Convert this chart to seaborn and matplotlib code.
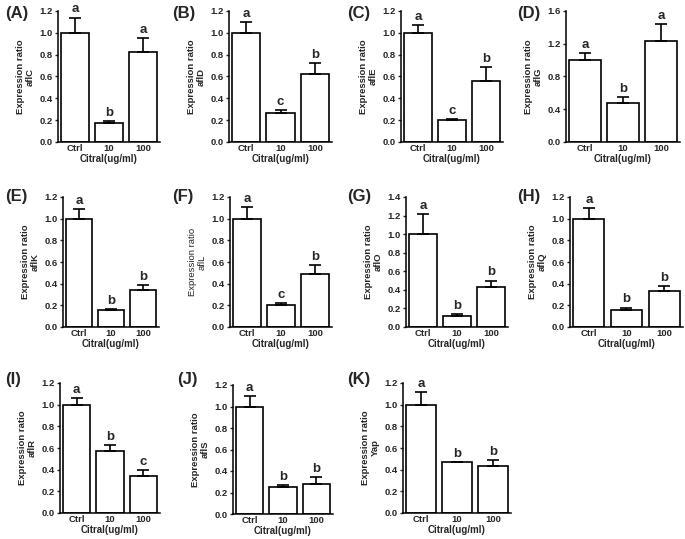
import numpy as np
import pandas as pd
import seaborn as sns
import matplotlib.pyplot as plt

# Data
doses = ['Ctrl', '10', '100']
panel_tags = ['(A)', '(B)', '(C)', '(D)', '(E)', '(F)', '(G)', '(H)', '(I)', '(J)', '(K)']
genes = ['aflC', 'aflD', 'aflE', 'aflG', 'aflK', 'aflL', 'aflO', 'aflQ', 'aflR', 'aflS', 'Yap']

mean_aflC = [1.00, 0.17, 0.82]
mean_aflD = [1.00, 0.27, 0.62]
mean_aflE = [1.00, 0.20, 0.56]
mean_aflG = [1.00, 0.48, 1.23]
mean_aflK = [1.00, 0.16, 0.34]
mean_aflL = [1.00, 0.20, 0.49]
mean_aflO = [1.00, 0.12, 0.43]
mean_aflQ = [1.00, 0.16, 0.33]
mean_aflR = [1.00, 0.57, 0.34]
mean_aflS = [1.00, 0.25, 0.28]
mean_Yap = [1.00, 0.47, 0.43]

err_aflC = [0.14, 0.02, 0.13]
err_aflD = [0.10, 0.02, 0.10]
err_aflE = [0.07, 0.01, 0.13]
err_aflG = [0.09, 0.07, 0.21]
err_aflK = [0.09, 0.01, 0.05]
err_aflL = [0.11, 0.02, 0.08]
err_aflO = [0.22, 0.02, 0.07]
err_aflQ = [0.10, 0.02, 0.05]
err_aflR = [0.06, 0.06, 0.06]
err_aflS = [0.10, 0.02, 0.06]
err_Yap = [0.12, 0.00, 0.06]

letters_aflC = ['a', 'b', 'a']
letters_aflD = ['a', 'c', 'b']
letters_aflE = ['a', 'c', 'b']
letters_aflG = ['a', 'b', 'a']
letters_aflK = ['a', 'b', 'b']
letters_aflL = ['a', 'c', 'b']
letters_aflO = ['a', 'b', 'b']
letters_aflQ = ['a', 'b', 'b']
letters_aflR = ['a', 'b', 'c']
letters_aflS = ['a', 'b', 'b']
letters_Yap = ['a', 'b', 'b']

means = [mean_aflC, mean_aflD, mean_aflE, mean_aflG, mean_aflK, mean_aflL,
         mean_aflO, mean_aflQ, mean_aflR, mean_aflS, mean_Yap]
errs = [err_aflC, err_aflD, err_aflE, err_aflG, err_aflK, err_aflL,
        err_aflO, err_aflQ, err_aflR, err_aflS, err_Yap]
letters = [letters_aflC, letters_aflD, letters_aflE, letters_aflG, letters_aflK, letters_aflL,
           letters_aflO, letters_aflQ, letters_aflR, letters_aflS, letters_Yap]
y_max = [1.2, 1.2, 1.2, 1.6, 1.2, 1.2, 1.4, 1.2, 1.2, 1.2, 1.2]
y_step = [0.2, 0.2, 0.2, 0.4, 0.2, 0.2, 0.2, 0.2, 0.2, 0.2, 0.2]

# axes boxes in pixels: left, right, top, bottom
W, H = 685, 539
boxes = [(58, 160, 11, 142), (229, 332, 11, 142), (401, 503, 11, 142), (566, 680, 11, 142),
         (63, 159, 197, 327), (230, 332, 197, 327), (406, 508, 197, 327), (570, 683, 197, 327),
         (60, 160, 383, 513), (233, 333, 385, 514), (403, 511, 383, 513)]
tag_pos = [(5, 6), (172, 6), (347, 6), (517, 6),
           (5, 189), (172, 189), (347, 189), (517, 189),
           (5, 372), (177, 372), (347, 372)]

sns.set_theme(style='ticks')
plt.rcParams['font.family'] = ['Liberation Sans', 'DejaVu Sans']

fig = plt.figure(figsize=(W / 100, H / 100), dpi=100)

for i, gene in enumerate(genes):
    x0, x1, t, b = boxes[i]
    ax = fig.add_axes([x0 / W, 1 - b / H, (x1 - x0) / W, (b - t) / H])
    df = pd.DataFrame({'dose': doses, 'ratio': means[i]})
    sns.barplot(data=df, x='dose', y='ratio', ax=ax, color='white', saturation=1,
                edgecolor='black', linewidth=1.2, width=0.82, errorbar=None)
    xs = np.arange(len(doses))
    ax.errorbar(xs, means[i], yerr=[np.zeros(len(doses)), errs[i]], fmt='none',
                ecolor='black', elinewidth=1.2, capsize=4.2, capthick=1.2)
    for x, m, e, lab in zip(xs, means[i], errs[i], letters[i]):
        ax.annotate(lab, (x, m + e), xytext=(0, 1.5), textcoords='offset points',
                    ha='center', va='bottom', fontsize=9.5, fontweight='bold')
    ax.set_xlim(-0.5, 2.5)
    ax.set_ylim(0, y_max[i])
    ax.set_yticks(np.arange(0, y_max[i] + 0.001, y_step[i]))
    ax.yaxis.set_major_formatter(plt.FormatStrFormatter('%.1f'))
    sns.despine(ax=ax)
    for s in ['left', 'bottom']:
        ax.spines[s].set_linewidth(1.1)
        ax.spines[s].set_color('black')
    ax.tick_params(axis='y', length=2.5, width=1, pad=1.5, labelsize=6.8)
    ax.tick_params(axis='x', length=0, pad=1.5, labelsize=6.8)
    for lbl in ax.get_xticklabels() + ax.get_yticklabels():
        lbl.set_fontweight('bold')
    weight = 'normal' if gene == 'aflL' else 'bold'
    ax.set_ylabel('Expression ratio\n' + gene, fontsize=6.8, fontweight=weight,
                  labelpad=3, linespacing=1.1)
    ax.set_xlabel('Citral(ug/ml)', fontsize=7, fontweight='bold', labelpad=1)
    tx, ty = tag_pos[i]
    fig.text(tx / W, 1 - ty / H, panel_tags[i], ha='left', va='top',
             fontsize=12, fontweight='bold')

fig.savefig('out.png', dpi=100)
